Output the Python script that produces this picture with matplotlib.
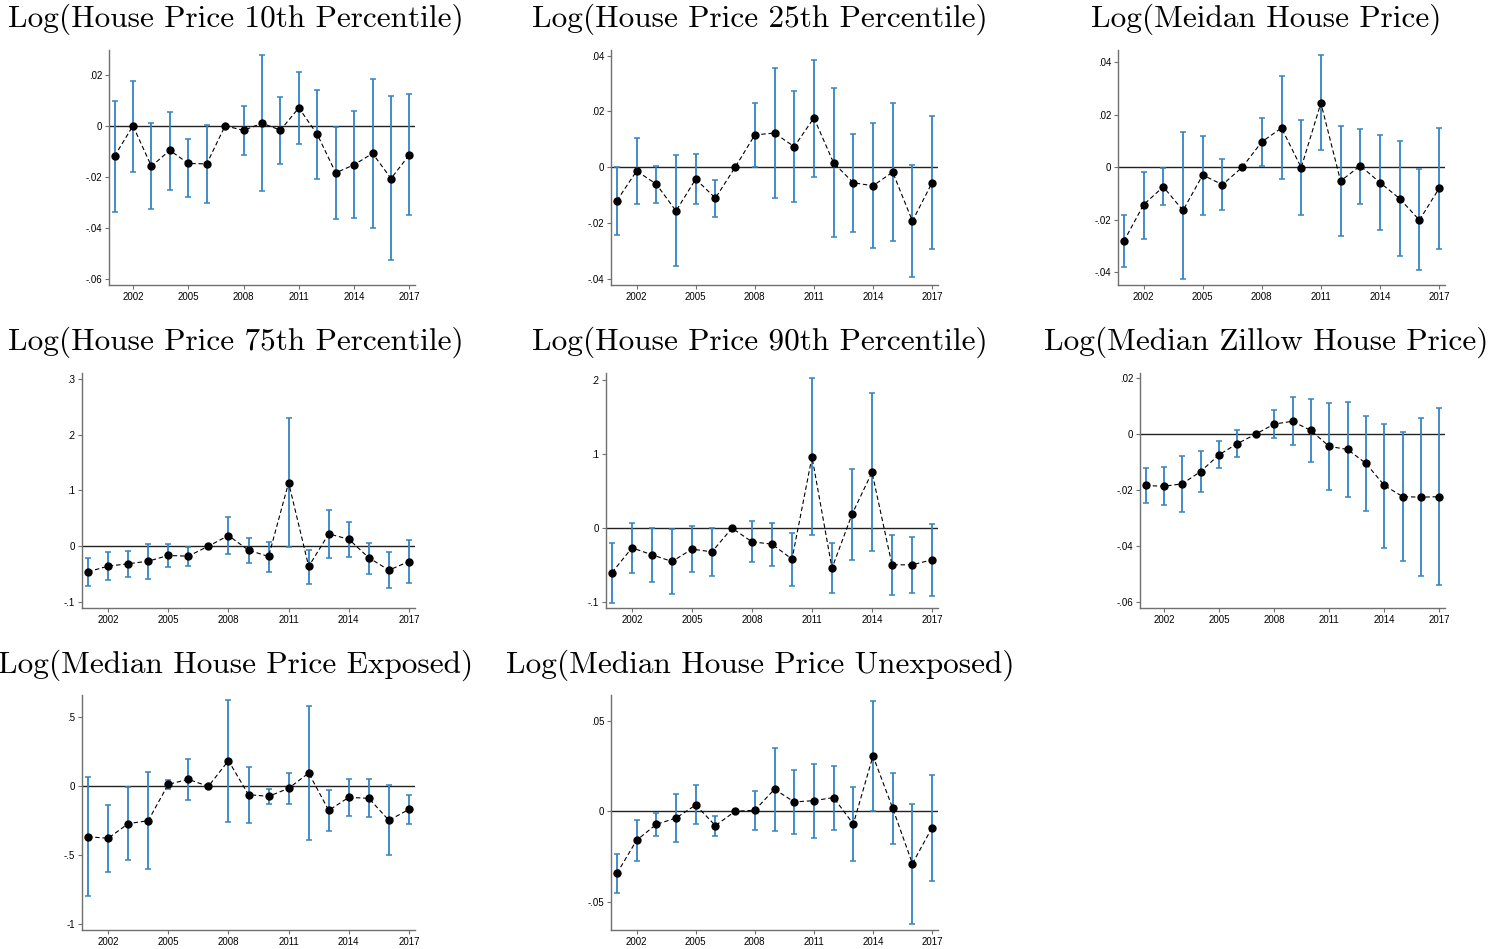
import numpy as np
import matplotlib
matplotlib.use("Agg")
import matplotlib.pyplot as plt
from matplotlib.ticker import FuncFormatter

years = np.arange(2001, 2018)

# point estimates, lower and upper CI bounds (2007 is the reference year)
p10_est = [-0.0119, 0.0, -0.0158, -0.0096, -0.0147, -0.0149, 0.0, -0.0018, 0.0010, -0.0017, 0.0070, -0.0034, -0.0184, -0.0152, -0.0108, -0.0206, -0.0113]
p10_lo = [-0.0336, -0.0179, -0.0327, -0.0249, -0.0278, -0.0300, np.nan, -0.0115, -0.0254, -0.0151, -0.0072, -0.0206, -0.0365, -0.0360, -0.0399, -0.0526, -0.0347]
p10_hi = [0.0096, 0.0175, 0.0009, 0.0055, -0.0053, 0.0003, np.nan, 0.0076, 0.0275, 0.0113, 0.0211, 0.0139, -0.0003, 0.0056, 0.0182, 0.0116, 0.0123]

p25_est = [-0.0119, -0.0013, -0.0060, -0.0156, -0.0042, -0.0110, 0.0, 0.0116, 0.0123, 0.0074, 0.0177, 0.0016, -0.0055, -0.0066, -0.0017, -0.0192, -0.0055]
p25_lo = [-0.0241, -0.0132, -0.0126, -0.0354, -0.0132, -0.0177, np.nan, 0.0002, -0.0111, -0.0125, -0.0033, -0.0250, -0.0230, -0.0290, -0.0264, -0.0392, -0.0293]
p25_hi = [0.0002, 0.0106, 0.0005, 0.0043, 0.0047, -0.0044, np.nan, 0.0230, 0.0357, 0.0273, 0.0385, 0.0283, 0.0119, 0.0159, 0.0229, 0.0010, 0.0184]

med_est = [-0.0281, -0.0142, -0.0074, -0.0164, -0.0029, -0.0066, 0.0, 0.0097, 0.0150, -0.0001, 0.0245, -0.0052, 0.0006, -0.0058, -0.0119, -0.0201, -0.0080]
med_lo = [-0.0381, -0.0271, -0.0142, -0.0425, -0.0182, -0.0163, np.nan, 0.0004, -0.0046, -0.0183, 0.0066, -0.0260, -0.0138, -0.0240, -0.0339, -0.0391, -0.0310]
med_hi = [-0.0180, -0.0017, -0.0004, 0.0135, 0.0121, 0.0031, np.nan, 0.0189, 0.0347, 0.0180, 0.0427, 0.0156, 0.0147, 0.0124, 0.0102, -0.0006, 0.0151]

p75_est = [-0.0460, -0.0358, -0.0316, -0.0269, -0.0167, -0.0179, 0.0, 0.0191, -0.0072, -0.0185, 0.1140, -0.0364, 0.0221, 0.0125, -0.0209, -0.0430, -0.0275]
p75_lo = [-0.0716, -0.0609, -0.0555, -0.0585, -0.0376, -0.0364, np.nan, -0.0137, -0.0310, -0.0460, -0.0018, -0.0675, -0.0209, -0.0191, -0.0496, -0.0758, -0.0663]
p75_hi = [-0.0209, -0.0107, -0.0084, 0.0048, 0.0036, -0.0012, np.nan, 0.0519, 0.0155, 0.0084, 0.2293, -0.0060, 0.0645, 0.0436, 0.0066, -0.0101, 0.0107]

p90_est = [-0.0599, -0.0266, -0.0360, -0.0450, -0.0284, -0.0320, 0.0, -0.0185, -0.0216, -0.0419, 0.0959, -0.0541, 0.0185, 0.0752, -0.0495, -0.0495, -0.0428]
p90_lo = [-0.1005, -0.0599, -0.0721, -0.0887, -0.0595, -0.0644, np.nan, -0.0459, -0.0505, -0.0779, -0.0099, -0.0878, -0.0428, -0.0315, -0.0896, -0.0869, -0.0910]
p90_hi = [-0.0198, 0.0063, -0.0005, -0.0014, 0.0023, -0.0005, np.nan, 0.0099, 0.0072, -0.0063, 0.2018, -0.0203, 0.0793, 0.1815, -0.0090, -0.0117, 0.0054]

zil_est = [-0.0184, -0.0187, -0.0178, -0.0134, -0.0074, -0.0034, 0.0, 0.0036, 0.0046, 0.0013, -0.0044, -0.0055, -0.0105, -0.0184, -0.0224, -0.0226, -0.0224]
zil_lo = [-0.0246, -0.0255, -0.0280, -0.0208, -0.0122, -0.0083, np.nan, -0.0014, -0.0040, -0.0101, -0.0201, -0.0225, -0.0277, -0.0407, -0.0454, -0.0510, -0.0541]
zil_hi = [-0.0123, -0.0117, -0.0077, -0.0061, -0.0025, 0.0016, np.nan, 0.0085, 0.0132, 0.0127, 0.0113, 0.0114, 0.0066, 0.0038, 0.0007, 0.0056, 0.0092]

exp_est = [-0.3647, -0.3768, -0.2705, -0.2488, 0.0145, 0.0507, 0.0, 0.1860, -0.0604, -0.0725, -0.0145, 0.0966, -0.1739, -0.0797, -0.0870, -0.2464, -0.1667]
exp_lo = [-0.7971, -0.6232, -0.5314, -0.6014, -0.0193, -0.1014, np.nan, -0.2560, -0.2633, -0.1304, -0.1280, -0.3865, -0.3213, -0.2150, -0.2246, -0.4976, -0.2730]
exp_hi = [0.0652, -0.1329, -0.0072, 0.1014, 0.0483, 0.2005, np.nan, 0.6232, 0.1425, -0.0169, 0.0966, 0.5797, -0.0290, 0.0507, 0.0507, 0.0072, -0.0652]

unx_est = [-0.0343, -0.0160, -0.0072, -0.0037, 0.0035, -0.0079, 0.0, 0.0006, 0.0122, 0.0052, 0.0059, 0.0076, -0.0070, 0.0306, 0.0017, -0.0289, -0.0090]
unx_lo = [-0.0451, -0.0274, -0.0136, -0.0171, -0.0072, -0.0136, np.nan, -0.0103, -0.0111, -0.0125, -0.0146, -0.0103, -0.0276, 0.0, -0.0179, -0.0623, -0.0385]
unx_hi = [-0.0234, -0.0048, -0.0011, 0.0098, 0.0144, -0.0024, np.nan, 0.0114, 0.0352, 0.0227, 0.0263, 0.0252, 0.0133, 0.0611, 0.0214, 0.0041, 0.0203]

titles = ["Log(House Price 10th Percentile)", "Log(House Price 25th Percentile)",
          "Log(Meidan House Price)", "Log(House Price 75th Percentile)",
          "Log(House Price 90th Percentile)", "Log(Median Zillow House Price)",
          "Log(Median House Price Exposed)", "Log(Median House Price Unexposed)"]

series = [(p10_est, p10_lo, p10_hi), (p25_est, p25_lo, p25_hi), (med_est, med_lo, med_hi),
          (p75_est, p75_lo, p75_hi), (p90_est, p90_lo, p90_hi), (zil_est, zil_lo, zil_hi),
          (exp_est, exp_lo, exp_hi), (unx_est, unx_lo, unx_hi)]

yticks = [[-0.06, -0.04, -0.02, 0, 0.02], [-0.04, -0.02, 0, 0.02, 0.04], [-0.04, -0.02, 0, 0.02, 0.04],
          [-0.1, 0, 0.1, 0.2, 0.3], [-0.1, 0, 0.1, 0.2], [-0.06, -0.04, -0.02, 0, 0.02],
          [-1, -0.5, 0, 0.5], [-0.05, 0, 0.05]]
ylims = [(-0.0622, 0.0296), (-0.0421, 0.042), (-0.0448, 0.0447), (-0.111, 0.311),
         (-0.1077, 0.209), (-0.0623, 0.0219), (-1.041, 0.662), (-0.0656, 0.0643)]

W, H = 1506, 949
# axes boxes in pixels: left, right, top, bottom
boxes = [(109, 415, 50, 285), (611, 938, 50, 285), (1118, 1445, 50, 285),
         (82, 415, 373, 608), (606, 938, 373, 608), (1140, 1445, 373, 608),
         (82, 415, 695, 930), (611, 938, 695, 930)]
title_x = [236, 760, 1266]
title_y = [19, 342, 665]

blue = "#3384c4"
spine = "#707070"


def stata_fmt(v, pos):
    if abs(v) < 1e-12:
        return "0"
    s = ("%g" % v)
    s = s.replace("0.", ".")
    return s


fig = plt.figure(figsize=(W / 100, H / 100), dpi=100)
fig.patch.set_facecolor("white")

for i, (est, lo, hi) in enumerate(series):
    l, r, t, b = boxes[i]
    ax = fig.add_axes([l / W, 1 - b / H, (r - l) / W, (b - t) / H])
    est = np.array(est)
    lo = np.array(lo)
    hi = np.array(hi)
    ax.axhline(0, color="#222222", lw=1.0, zorder=1)
    ax.errorbar(years, est, yerr=[est - lo, hi - est], fmt="none", ecolor=blue,
                elinewidth=1.3, capsize=2.2, capthick=1.1, zorder=2)
    ax.plot(years, est, color="black", lw=0.8, dashes=(4, 2.5), zorder=3)
    ax.plot(years, est, "o", color="black", ms=5, zorder=4)
    ax.set_xlim(2000.7, 2017.3)
    ax.set_ylim(*ylims[i])
    ax.set_xticks(range(2002, 2018, 3))
    ax.set_yticks(yticks[i])
    ax.yaxis.set_major_formatter(FuncFormatter(stata_fmt))
    for s in ["top", "right"]:
        ax.spines[s].set_visible(False)
    for s in ["left", "bottom"]:
        ax.spines[s].set_color(spine)
        ax.spines[s].set_linewidth(1.0)
    ax.tick_params(direction="out", length=3, width=0.8, color=spine,
                   labelsize=7, pad=2)
    for lab in ax.get_xticklabels() + ax.get_yticklabels():
        lab.set_fontfamily("Liberation Sans")
    fig.text(title_x[i % 3] / W, 1 - title_y[i // 3] / H, titles[i],
             ha="center", va="center", fontsize=22.5, fontfamily="cmr10")

fig.savefig("out.png", dpi=100)
